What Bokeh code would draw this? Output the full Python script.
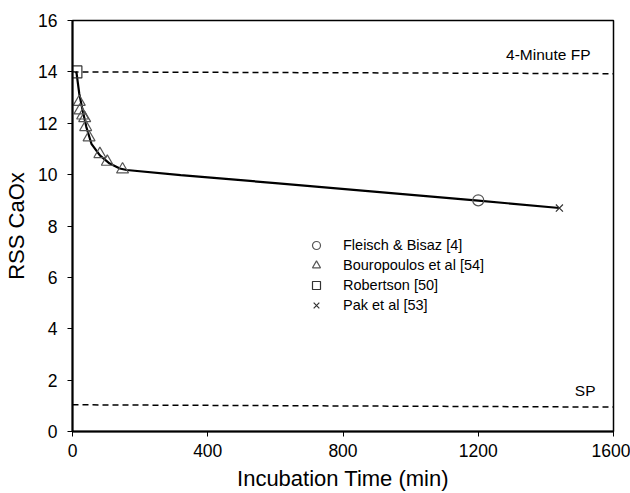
from bokeh.plotting import figure
from bokeh.models import Legend, LegendItem, Label, Range1d, FixedTicker
from bokeh.embed import file_html
from bokeh.resources import INLINE

# Data
fleisch_x = [1200]
fleisch_y = [9.0]
bouro_x = [20, 22, 30, 36, 39, 49, 81, 103, 148]
bouro_y = [12.83, 12.5, 12.3, 12.2, 11.85, 11.45, 10.8, 10.5, 10.2]
robertson_x = [10]
robertson_y = [14.0]
pak_x = [1440]
pak_y = [8.7]

fit_x = [10, 12, 20, 30, 41, 56, 81, 110, 140, 160, 320, 600, 900, 1200, 1440]
fit_y = [14.0, 13.95, 13.15, 12.5, 11.85, 11.2, 10.75, 10.43, 10.24, 10.18, 9.98, 9.67, 9.33, 8.99, 8.7]

fp_x = [0, 1600]
fp_y = [14.0, 13.93]
sp_x = [0, 1600]
sp_y = [1.04, 0.95]

x_ticks = [0, 400, 800, 1200, 1600]
y_ticks = [0, 2, 4, 6, 8, 10, 12, 14, 16]

FONT = "Liberation Sans"

p = figure(width=630, height=493, output_backend="svg", toolbar_location=None,
           x_range=Range1d(0, 1600), y_range=Range1d(0, 16),
           min_border_left=72, min_border_right=17, min_border_top=20, min_border_bottom=61)
p.background_fill_color = "white"
p.border_fill_color = "white"
p.outline_line_color = "black"
p.outline_line_width = 1.5
p.grid.visible = False

for ax in (p.xaxis[0], p.yaxis[0]):
    ax.axis_line_width = 2
    ax.axis_line_color = "black"
    ax.major_tick_line_color = "black"
    ax.major_tick_line_width = 1
    ax.major_tick_out = 5
    ax.major_tick_in = 0
    ax.minor_tick_line_color = None
    ax.major_label_text_font = FONT
    ax.major_label_text_font_size = "17.5px"
    ax.major_label_text_color = "black"
    ax.axis_label_text_font = FONT
    ax.axis_label_text_font_size = "22px"
    ax.axis_label_text_font_style = "normal"
    ax.axis_label_text_color = "black"

p.xaxis.ticker = FixedTicker(ticks=x_ticks)
p.yaxis.ticker = FixedTicker(ticks=y_ticks)
p.xaxis.axis_label = "Incubation Time (min)"
p.yaxis.axis_label = "RSS CaOx"
p.xaxis.major_label_standoff = 7
p.yaxis.major_label_standoff = 10
p.xaxis.axis_label_standoff = 6
p.yaxis.axis_label_standoff = 6

p.line(fp_x, fp_y, line_color="black", line_width=1.5, line_dash="6 4")
p.line(sp_x, sp_y, line_color="black", line_width=1.5, line_dash="6 4")
p.line(fit_x, fit_y, line_color="black", line_width=2.2)

mc = "#555555"
r_circ = p.scatter(fleisch_x, fleisch_y, marker="circle", size=11, fill_color=None, line_color=mc, line_width=1.2)
r_tri = p.scatter(bouro_x, bouro_y, marker="triangle", size=12, fill_color=None, line_color=mc, line_width=1.2)
r_sq = p.scatter(robertson_x, robertson_y, marker="square", size=12, fill_color=None, line_color="#333333", line_width=1.2)
r_x = p.scatter(pak_x, pak_y, marker="x", size=10, line_color="#333333", line_width=1.2)

legend = Legend(items=[
    LegendItem(label="Fleisch & Bisaz [4]", renderers=[r_circ]),
    LegendItem(label="Bouropoulos et al [54]", renderers=[r_tri]),
    LegendItem(label="Robertson [50]", renderers=[r_sq]),
    LegendItem(label="Pak et al [53]", renderers=[r_x]),
], location=(234, 116), orientation="vertical")
legend.border_line_color = None
legend.background_fill_alpha = 0
legend.padding = 0
legend.margin = 0
legend.spacing = 0
legend.glyph_width = 20
legend.glyph_height = 20
legend.label_height = 20
legend.label_standoff = 17
legend.label_text_font = FONT
legend.label_text_font_size = "14.5px"
legend.label_text_color = "black"
p.add_layout(legend, "center")

p.add_layout(Label(x=1600, y=14.0, x_units="data", y_units="data", text="4-Minute FP",
                   x_offset=-23, y_offset=9, text_align="right", text_baseline="bottom",
                   text_font=FONT, text_font_size="15.5px", text_color="black"))
p.add_layout(Label(x=1600, y=1.0, x_units="data", y_units="data", text="SP",
                   x_offset=-18, y_offset=7, text_align="right", text_baseline="bottom",
                   text_font=FONT, text_font_size="15.5px", text_color="black"))

open("out.html", "w").write(file_html(p, INLINE))
